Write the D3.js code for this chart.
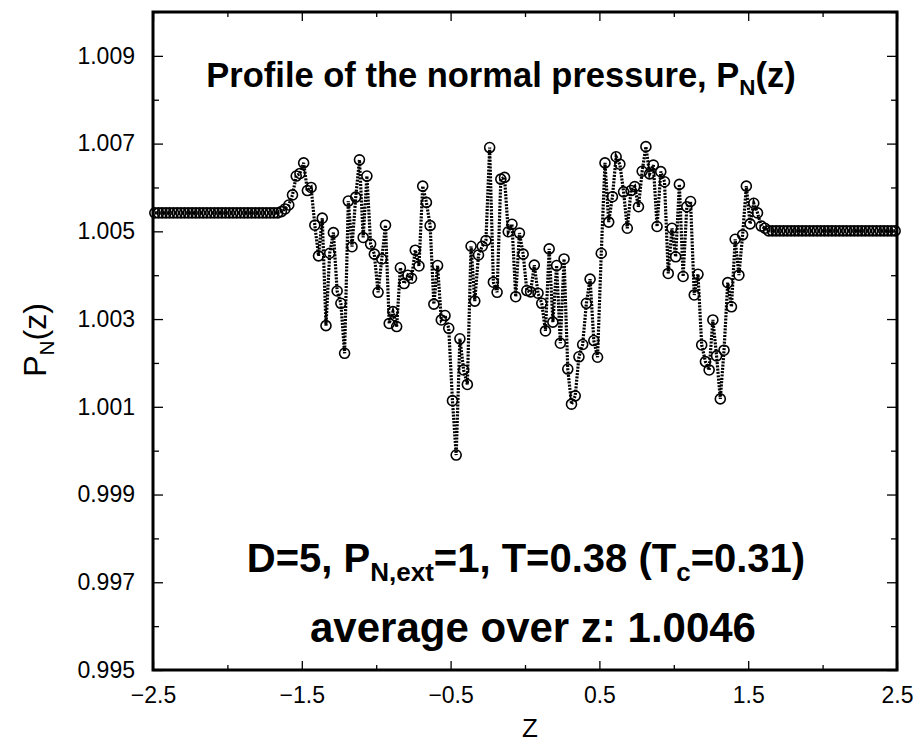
<!DOCTYPE html>
<html>
<head>
<meta charset="utf-8">
<script src="https://cdn.jsdelivr.net/npm/d3@7"></script>
<style>
  body { margin: 0; background: #fff; }
  svg { display: block; font-family: "Liberation Sans", Arial, sans-serif; }
</style>
</head>
<body>
<svg width="919" height="744"></svg>
<script>
// z grid (bin centres)
var zValues = [
  -2.4875,-2.4625,-2.4375,-2.4125,-2.3875,-2.3625,-2.3375,-2.3125,-2.2875,-2.2625,-2.2375,-2.2125,-2.1875,-2.1625,-2.1375,-2.1125,-2.0875,-2.0625,-2.0375,-2.0125,
  -1.9875,-1.9625,-1.9375,-1.9125,-1.8875,-1.8625,-1.8375,-1.8125,-1.7875,-1.7625,-1.7375,-1.7125,-1.6875,-1.6625,-1.6375,-1.6125,-1.5875,-1.5625,-1.5375,-1.5125,
  -1.4875,-1.4625,-1.4375,-1.4125,-1.3875,-1.3625,-1.3375,-1.3125,-1.2875,-1.2625,-1.2375,-1.2125,-1.1875,-1.1625,-1.1375,-1.1125,-1.0875,-1.0625,-1.0375,-1.0125,
  -0.9875,-0.9625,-0.9375,-0.9125,-0.8875,-0.8625,-0.8375,-0.8125,-0.7875,-0.7625,-0.7375,-0.7125,-0.6875,-0.6625,-0.6375,-0.6125,-0.5875,-0.5625,-0.5375,-0.5125,
  -0.4875,-0.4625,-0.4375,-0.4125,-0.3875,-0.3625,-0.3375,-0.3125,-0.2875,-0.2625,-0.2375,-0.2125,-0.1875,-0.1625,-0.1375,-0.1125,-0.0875,-0.0625,-0.0375,-0.0125,
  0.0125,0.0375,0.0625,0.0875,0.1125,0.1375,0.1625,0.1875,0.2125,0.2375,0.2625,0.2875,0.3125,0.3375,0.3625,0.3875,0.4125,0.4375,0.4625,0.4875,
  0.5125,0.5375,0.5625,0.5875,0.6125,0.6375,0.6625,0.6875,0.7125,0.7375,0.7625,0.7875,0.8125,0.8375,0.8625,0.8875,0.9125,0.9375,0.9625,0.9875,
  1.0125,1.0375,1.0625,1.0875,1.1125,1.1375,1.1625,1.1875,1.2125,1.2375,1.2625,1.2875,1.3125,1.3375,1.3625,1.3875,1.4125,1.4375,1.4625,1.4875,
  1.5125,1.5375,1.5625,1.5875,1.6125,1.6375,1.6625,1.6875,1.7125,1.7375,1.7625,1.7875,1.8125,1.8375,1.8625,1.8875,1.9125,1.9375,1.9625,1.9875,
  2.0125,2.0375,2.0625,2.0875,2.1125,2.1375,2.1625,2.1875,2.2125,2.2375,2.2625,2.2875,2.3125,2.3375,2.3625,2.3875,2.4125,2.4375,2.4625,2.4875
];

// normal pressure P_N(z), one value per z
var pnValues = [
  1.00542,1.00542,1.00542,1.00542,1.00542,1.00542,1.00542,1.00542,1.00542,1.00542,1.00542,1.00542,1.00542,1.00542,1.00542,1.00542,1.00542,1.00542,1.00542,1.00542,
  1.00542,1.00542,1.00542,1.00542,1.00542,1.00542,1.00542,1.00542,1.00542,1.00542,1.00542,1.00542,1.00542,1.00542,1.00545,1.00551,1.00560,1.00583,1.00626,1.00632,
  1.00656,1.00593,1.00600,1.00514,1.00444,1.00530,1.00285,1.00450,1.00497,1.00364,1.00336,1.00222,1.00569,1.00465,1.00578,1.00663,1.00486,1.00626,1.00471,1.00448,
  1.00361,1.00437,1.00514,1.00290,1.00317,1.00283,1.00417,1.00381,1.00400,1.00393,1.00457,1.00421,1.00603,1.00566,1.00513,1.00334,1.00422,1.00298,1.00308,1.00279,
  1.00114,0.99990,1.00255,1.00184,1.00151,1.00466,1.00341,1.00446,1.00466,1.00479,1.00691,1.00384,1.00361,1.00619,1.00623,1.00499,1.00516,1.00351,1.00496,1.00448,
  1.00365,1.00362,1.00423,1.00359,1.00336,1.00273,1.00460,1.00293,1.00422,1.00245,1.00437,1.00186,1.00106,1.00125,1.00214,1.00242,1.00336,1.00391,1.00251,1.00213,
  1.00450,1.00656,1.00521,1.00579,1.00670,1.00653,1.00590,1.00507,1.00593,1.00602,1.00556,1.00637,1.00693,1.00631,1.00651,1.00511,1.00636,1.00613,1.00404,1.00507,
  1.00442,1.00607,1.00397,1.00556,1.00568,1.00355,1.00402,1.00241,1.00203,1.00184,1.00298,1.00216,1.00118,1.00229,1.00383,1.00328,1.00482,1.00400,1.00492,1.00603,
  1.00517,1.00564,1.00542,1.00512,1.00507,1.00501,1.00501,1.00501,1.00501,1.00501,1.00501,1.00501,1.00501,1.00501,1.00501,1.00501,1.00501,1.00501,1.00501,1.00501,
  1.00501,1.00501,1.00501,1.00501,1.00501,1.00501,1.00501,1.00501,1.00501,1.00501,1.00501,1.00501,1.00501,1.00501,1.00501,1.00501,1.00501,1.00501,1.00501,1.00501
];

var xMajorTicks = [-2.5, -1.5, -0.5, 0.5, 1.5, 2.5];
var xMinorTicks = [-2, -1, 0, 1, 2];
var yMajorTicks = [0.995, 0.997, 0.999, 1.001, 1.003, 1.005, 1.007, 1.009];
var yMinorTicks = [0.996, 0.998, 1.000, 1.002, 1.004, 1.006, 1.008, 1.010];

var svg = d3.select('svg');
var svgWidth = +svg.attr('width');
var svgHeight = +svg.attr('height');

var padding = {t: 12, r: 22, b: 74, l: 153};
var chartWidth = svgWidth - padding.l - padding.r;
var chartHeight = svgHeight - padding.t - padding.b;

var chartG = svg.append('g')
    .attr('transform', 'translate(' + [padding.l, padding.t] + ')');

var xScale = d3.scaleLinear().domain([-2.5, 2.5]).range([0, chartWidth]);
var yScale = d3.scaleLinear().domain([0.995, 1.010]).range([chartHeight, 0]);

var data = zValues.map(function(z, i) { return {z: z, p: pnValues[i]}; });

// ticks, pointing inwards on all four sides
function addAxis(axis, transform) {
    var g = chartG.append('g')
        .attr('class', 'axis')
        .attr('transform', transform)
        .call(axis);
    g.select('.domain').remove();
    g.selectAll('line').attr('stroke', '#000').attr('stroke-width', 1.3);
    g.selectAll('text')
        .attr('fill', '#000')
        .style('font-size', '23px')
        .style('font-family', '"Liberation Sans", Arial, sans-serif');
    return g;
}

addAxis(d3.axisBottom(xScale).tickValues(xMajorTicks).tickSize(-9).tickPadding(17)
    .tickFormat(d3.format('.1f')), 'translate(0,' + chartHeight + ')');
addAxis(d3.axisBottom(xScale).tickValues(xMinorTicks).tickSize(-5).tickFormat(''),
    'translate(0,' + chartHeight + ')');
addAxis(d3.axisTop(xScale).tickValues(xMajorTicks).tickSize(-9).tickFormat(''), 'translate(0,0)');
addAxis(d3.axisTop(xScale).tickValues(xMinorTicks).tickSize(-5).tickFormat(''), 'translate(0,0)');

addAxis(d3.axisLeft(yScale).tickValues(yMajorTicks).tickSize(-10).tickPadding(18)
    .tickFormat(d3.format('.3f')), 'translate(0,0)');
addAxis(d3.axisLeft(yScale).tickValues(yMinorTicks).tickSize(-6).tickFormat(''), 'translate(0,0)');
addAxis(d3.axisRight(yScale).tickValues(yMajorTicks).tickSize(-10).tickFormat(''),
    'translate(' + chartWidth + ',0)');
addAxis(d3.axisRight(yScale).tickValues(yMinorTicks).tickSize(-6).tickFormat(''),
    'translate(' + chartWidth + ',0)');

// the data: dotted line plus open circles
var line = d3.line()
    .x(function(d) { return xScale(d.z); })
    .y(function(d) { return yScale(d.p); });

chartG.append('path')
    .datum(data)
    .attr('d', line)
    .attr('fill', 'none')
    .attr('stroke', '#000')
    .attr('stroke-width', 3.2)
    .attr('stroke-dasharray', '2,1.3');

chartG.selectAll('.pt')
    .data(data)
    .enter()
    .append('circle')
    .attr('class', 'pt')
    .attr('cx', function(d) { return xScale(d.z); })
    .attr('cy', function(d) { return yScale(d.p); })
    .attr('r', 5)
    .attr('fill', 'none')
    .attr('stroke', '#000')
    .attr('stroke-width', 1.6);

// frame
chartG.append('rect')
    .attr('width', chartWidth)
    .attr('height', chartHeight)
    .attr('fill', 'none')
    .attr('stroke', '#000')
    .attr('stroke-width', 3);

// texts
function subText(sel, parts, shift) {
    parts.forEach(function(p) {
        var t = sel.append('tspan').text(p[0]);
        if (p[1] === 'sub') t.attr('dy', shift).style('font-size', '65%');
        if (p[1] === 'up') t.attr('dy', -shift);
    });
}

var title = svg.append('text')
    .attr('x', 501).attr('y', 87)
    .attr('text-anchor', 'middle')
    .style('font-size', '34.5px').style('font-weight', 'bold');
subText(title, [['Profile of the normal pressure, P'], ['N', 'sub'], ['(z)', 'up']], 8);

var info = svg.append('text')
    .attr('x', 526).attr('y', 572)
    .attr('text-anchor', 'middle')
    .style('font-size', '40px').style('font-weight', 'bold');
subText(info, [['D=5, P'], ['N,ext', 'sub'], ['=1, T=0.38 (T', 'up'], ['c', 'sub'], ['=0.31)', 'up']], 9);

svg.append('text')
    .attr('x', 533).attr('y', 642)
    .attr('text-anchor', 'middle')
    .style('font-size', '42px').style('font-weight', 'bold')
    .text('average over z: 1.0046');

svg.append('text')
    .attr('x', 530).attr('y', 737)
    .attr('text-anchor', 'middle')
    .style('font-size', '26px')
    .text('Z');

var yTitle = svg.append('text')
    .attr('transform', 'translate(46,340) rotate(-90)')
    .attr('text-anchor', 'middle')
    .style('font-size', '32px');
subText(yTitle, [['P'], ['N', 'sub'], ['(z)', 'up']], 8);
</script>
</body>
</html>
